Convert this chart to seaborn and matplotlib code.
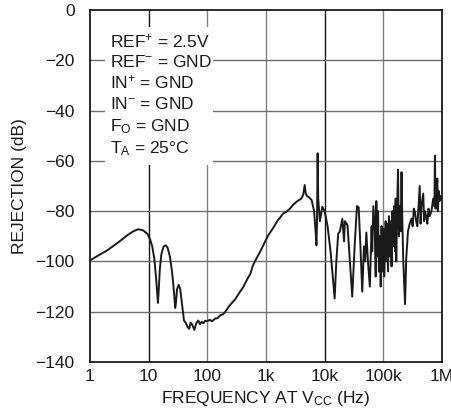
import pandas as pd
import seaborn as sns
import matplotlib.pyplot as plt
from matplotlib.patches import Rectangle

# frequency (Hz) and rejection (dB)
freq = [1, 1.3, 2, 3, 4.5, 5.5, 6.6, 8, 9.5, 10.5, 11.5, 12.5, 13.3, 14, 14.4, 14.8,
        15.5, 16.5, 18, 19.5, 21, 23, 25, 27, 28.3, 29, 30.5, 32.5, 34.5, 37, 40, 43,
        46, 49, 52, 56, 60, 65, 70, 75, 80, 86, 92, 100, 110, 120, 135, 150, 165, 185,
        200, 240, 300, 350, 410, 480, 540, 600, 700, 800, 950, 1100, 1300, 1600, 1750,
        1950, 2200, 2570, 2900, 3300, 3700, 4000, 4300, 4570, 4750, 5000, 5400, 6000,
        6600, 7000, 7240, 7400, 7590, 7760, 8300, 9100, 10000, 11200, 12600, 14800,
        15800, 17000, 18200, 20000, 21400, 22100, 24500, 26900, 29500, 32400, 35500,
        38000, 40700, 43700, 46800, 49000, 51300, 55000, 58900, 63100, 64600, 67600,
        71600, 74100, 75900, 78500, 81300, 84100, 87100, 90200, 93300, 96600, 100000,
        103500, 107200, 109600, 112200, 116100, 120200, 124500, 128800, 133400,
        138000, 142900, 147900, 153100, 158500, 162200, 166000, 171800, 177800,
        184100, 190500, 197200, 204200, 211300, 218800, 234400, 245500, 263000,
        281800, 302000, 316200, 331100, 346700, 363100, 380200, 398100, 416900,
        431500, 446700, 478600, 495500, 512900, 537000, 562300, 588800, 616600,
        660700, 707900, 741300, 758600, 776200, 803500, 831800, 851100, 881000,
        912000, 944000, 1000000]
rejection = [-99.6, -98, -95.5, -92.5, -89.3, -88, -87.2, -87.6, -89, -91, -94, -99,
             -106, -113, -116.5, -112, -103, -97, -94, -93.6, -94.5, -98, -104, -112,
             -118.5, -117, -111, -109.3, -111, -117, -123.5, -124.5, -126, -126.8,
             -124.3, -125.5, -127.2, -124.5, -123.5, -125, -124, -124.6, -123.6,
             -123.8, -123.2, -123.8, -122.8, -122.5, -121.5, -121, -120.2, -117.5,
             -115, -112.5, -110.2, -107, -105, -101.5, -98.5, -96, -92.4, -89.5, -87,
             -83.5, -82.5, -81, -80.3, -79, -77.5, -76.3, -75.5, -75, -73.5, -69.6,
             -73, -74, -74.5, -75.6, -80, -88, -93.6, -85, -57, -75, -84, -78.3, -80,
             -86, -96, -114.7, -100, -89, -88, -83, -92, -84, -85.6, -100, -114, -94,
             -78, -78.5, -94, -112, -94, -100, -88.5, -101, -110, -86, -96, -78, -88,
             -106, -76, -98, -80, -104, -90, -110, -86, -104, -87, -106, -95, -84,
             -100, -85, -104, -82, -98, -84, -102, -80, -94, -78, -96, -75, -100, -80,
             -63.5, -90, -78, -88, -64.5, -85, -100, -117, -99, -88, -85, -83, -86,
             -79, -80.5, -84, -86, -78, -70, -85, -78, -73, -84, -80, -82, -85, -79,
             -82, -80, -75, -78, -58, -79, -74, -67, -80, -72, -76, -74, -75]

x_ticks = [1, 10, 100, 1e3, 1e4, 1e5, 1e6]
x_labels = ["1", "10", "100", "1k", "10k", "100k", "1M"]
y_ticks = [0, -20, -40, -60, -80, -100, -120, -140]

conditions = ["REF$^{+}$ = 2.5V", "REF$^{-}$ = GND", "IN$^{+}$ = GND",
              "IN$^{-}$ = GND", "F$_{O}$ = GND", "T$_{A}$ = 25°C"]

df = pd.DataFrame({"freq": freq, "rej": rejection})

sns.set_style("white")
plt.rcParams['font.family'] = ['Liberation Sans', 'DejaVu Sans']
plt.rcParams['mathtext.fontset'] = 'custom'
plt.rcParams['mathtext.rm'] = 'Liberation Sans'
plt.rcParams['mathtext.it'] = 'Liberation Sans'
plt.rcParams['mathtext.default'] = 'regular'
plt.rcParams['axes.unicode_minus'] = True

fig = plt.figure(figsize=(4.51, 4.2), dpi=100)
ax = fig.add_axes([90 / 451, 1 - 362 / 420, 352 / 451, 352 / 420])

sns.lineplot(data=df, x="freq", y="rej", ax=ax, color="#1a1a1a", lw=1.4,
             sort=False, estimator=None, zorder=3)

ax.set_xscale("log")
ax.set_xlim(1, 1e6)
ax.set_ylim(-140, 0)
ax.set_xticks(x_ticks)
ax.set_xticklabels(x_labels)
ax.minorticks_off()
ax.set_yticks(y_ticks)
ax.set_yticklabels([str(v).replace("-", "\u2212") for v in y_ticks])
ax.tick_params(length=0, labelsize=12.5, colors="#1a1a1a")
ax.tick_params(axis="y", pad=11)
ax.tick_params(axis="x", pad=5)

# grid: decade lines at 10 and 10k are darker in the original
for xv in x_ticks[1:-1]:
    c = "#111111" if xv in (10, 1e4) else "#808080"
    ax.axvline(xv, color=c, lw=1.0, zorder=0.5)
for yv in y_ticks[1:-1]:
    ax.axhline(yv, color="#6e6e6e", lw=1.0, zorder=0.5)

for s in ax.spines.values():
    s.set_color("#1a1a1a")
    s.set_linewidth(1.3)

ax.add_patch(Rectangle((0.043, 0.56), 0.307, 0.392, transform=ax.transAxes,
                       facecolor="white", edgecolor="none", zorder=1))
baselines = [0.895, 0.838, 0.778, 0.719, 0.656, 0.594]
for txt, yb in zip(conditions, baselines):
    ax.text(0.057, yb, txt, transform=ax.transAxes, fontsize=12.5,
            va="baseline", ha="left", color="#1a1a1a", zorder=4)

ax.set_xlabel("FREQUENCY AT V$_{CC}$ (Hz)", fontsize=12.5, color="#1a1a1a", labelpad=4)
ax.set_ylabel("REJECTION (dB)", fontsize=12.5, color="#1a1a1a", labelpad=6)

fig.savefig("out.png", dpi=100)
